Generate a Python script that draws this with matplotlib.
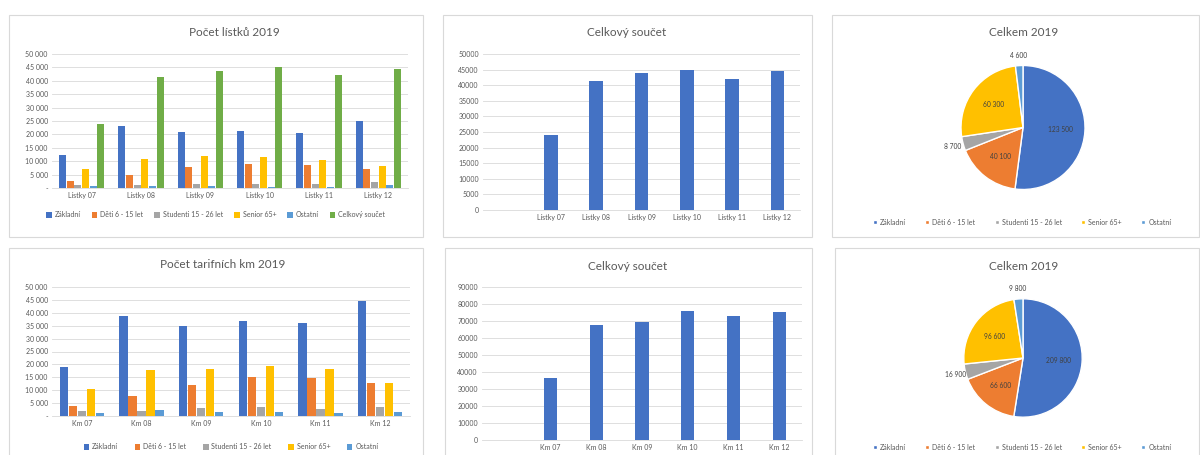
import numpy as np
import matplotlib
matplotlib.use('Agg')
import matplotlib.pyplot as plt
from matplotlib.patches import Rectangle
from matplotlib.ticker import FuncFormatter, MultipleLocator

plt.rcParams['font.family'] = ['Lato', 'DejaVu Sans']

# ---------------
# data
# ---------------
series = ['Základní', 'Děti 6 - 15 let', 'Studenti 15 - 26 let', 'Senior 65+', 'Ostatní']
colors = ['#4472C4', '#ED7D31', '#A5A5A5', '#FFC000', '#5B9BD5']
total_label = 'Celkový součet'
total_color = '#70AD47'

ticket_months = ['Lístky 07', 'Lístky 08', 'Lístky 09', 'Lístky 10', 'Lístky 11', 'Lístky 12']
tickets_zakladni = [12400, 23300, 20900, 21300, 20500, 25100]
tickets_deti = [2500, 4900, 7800, 9100, 8600, 7200]
tickets_studenti = [1000, 1000, 1600, 1500, 1400, 2200]
tickets_senior = [7200, 10800, 12100, 11400, 10600, 8200]
tickets_ostatni = [900, 900, 600, 500, 500, 1200]
tickets_total = [23900, 41400, 43800, 45000, 42000, 44500]

km_months = ['Km 07', 'Km 08', 'Km 09', 'Km 10', 'Km 11', 'Km 12']
km_zakladni = [19000, 38600, 34800, 37000, 36000, 44400]
km_deti = [3900, 7800, 12100, 15100, 14900, 12800]
km_studenti = [1900, 2100, 3000, 3600, 2800, 3500]
km_senior = [10300, 17700, 18200, 19400, 18100, 12900]
km_ostatni = [1200, 2200, 1700, 1700, 1300, 1700]
km_total = [36600, 67900, 69300, 76100, 72800, 75300]

W, H = 1200, 455
fig = plt.figure(figsize=(12, 4.55), dpi=100)
fig.patch.set_facecolor('white')

TXT = '#595959'
GRID = '#D9D9D9'


def box(l, t, r, b):
    return [l / W, 1 - b / H, (r - l) / W, (b - t) / H]


def panel(l, t, r, b):
    fig.add_artist(Rectangle((l / W, 1 - b / H), (r - l) / W, (b - t) / H,
                             transform=fig.transFigure, fill=False,
                             edgecolor=GRID, lw=0.8))


def title(x, y, s):
    fig.text(x / W, 1 - y / H, s, ha='center', va='center', fontsize=8.5, color=TXT)


def thousands(v, p):
    if v == 0:
        return '-'
    return f'{v:,.0f}'.replace(',', ' ')


def style_axes(ax, top, step):
    ax.set_ylim(0, top)
    ax.yaxis.set_major_locator(MultipleLocator(step))
    ax.grid(axis='y', color=GRID, lw=0.6)
    ax.set_axisbelow(True)
    for s in ['top', 'right', 'left']:
        ax.spines[s].set_visible(False)
    ax.spines['bottom'].set_color(GRID)
    ax.spines['bottom'].set_linewidth(0.6)
    ax.tick_params(length=0, labelsize=5, labelcolor=TXT, pad=3)


def grouped(ax, cats, data, cols, labels, width):
    x = np.arange(len(cats))
    n = len(data)
    for i, (vals, c, lab) in enumerate(zip(data, cols, labels)):
        ax.bar(x + (i - (n - 1) / 2) * width, vals, width * 0.92, color=c, label=lab)
    ax.set_xticks(x)
    ax.set_xticklabels(cats)
    ax.set_xlim(-0.5, len(cats) - 0.5)


def pie(ax, values, cols):
    wedges, _ = ax.pie(values, colors=cols, startangle=90, counterclock=False,
                       wedgeprops=dict(edgecolor='white', linewidth=1))
    total = sum(values)
    for w, v in zip(wedges, values):
        ang = np.deg2rad((w.theta1 + w.theta2) / 2)
        r = 0.6 if v / total > 0.06 else 1.17
        ax.text(r * np.cos(ang), r * np.sin(ang), f'{v:,.0f}'.replace(',', ' '),
                ha='center', va='center', fontsize=4.8, color='#404040')
    ax.set_xlim(-1.25, 1.25)
    ax.set_ylim(-1.25, 1.25)
    ax.set_aspect('equal')
    return wedges


legend_kw = dict(fontsize=5, frameon=False, handletextpad=0.4, labelcolor=TXT)

# panels
panel(9, 15, 423, 237)
panel(443, 15, 812, 237)
panel(832, 15, 1199, 237)
panel(9, 248, 423, 462)
panel(445, 248, 812, 462)
panel(835, 248, 1199, 462)

# ---- 1. tickets grouped
ax1 = fig.add_axes(box(52, 54, 408, 188))
grouped(ax1, ticket_months,
        [tickets_zakladni, tickets_deti, tickets_studenti, tickets_senior, tickets_ostatni, tickets_total],
        colors + [total_color], series + [total_label], 0.13)
style_axes(ax1, 50000, 5000)
ax1.yaxis.set_major_formatter(FuncFormatter(thousands))
title(234, 33, 'Počet lístků 2019')
ax1.legend(loc='center', bbox_to_anchor=(0.46, -0.2), ncol=6, handlelength=0.8,
           handleheight=0.8, columnspacing=1.6, **legend_kw)

# ---- 2. tickets total
ax2 = fig.add_axes(box(483, 54, 800, 210))
ax2.bar(np.arange(len(ticket_months)), tickets_total, 0.3, color=colors[0])
ax2.set_xticks(np.arange(len(ticket_months)))
ax2.set_xticklabels(ticket_months)
ax2.set_xlim(-1.5, len(ticket_months) - 0.5)
style_axes(ax2, 50000, 5000)
title(627, 33, 'Celkový součet')

# ---- 3. tickets pie
ax3 = fig.add_axes(box(945, 50, 1101, 205))
tickets_sums = [sum(tickets_zakladni), sum(tickets_deti), sum(tickets_studenti),
                sum(tickets_senior), sum(tickets_ostatni)]
w3 = pie(ax3, tickets_sums, colors)
title(1024, 33, 'Celkem 2019')
fig.legend(w3, series, loc='center', bbox_to_anchor=(1022 / W, 1 - 222 / H), ncol=5,
           handlelength=0.6, handleheight=0.6, columnspacing=2.8, **legend_kw)

# ---- 4. km grouped
ax4 = fig.add_axes(box(52, 287, 410, 416))
grouped(ax4, km_months,
        [km_zakladni, km_deti, km_studenti, km_senior, km_ostatni],
        colors, series, 0.152)
style_axes(ax4, 50000, 5000)
ax4.yaxis.set_major_formatter(FuncFormatter(thousands))
title(223, 265, 'Počet tarifních km 2019')
ax4.legend(loc='center', bbox_to_anchor=(0.5, -0.24), ncol=5, handlelength=0.8,
           handleheight=0.8, columnspacing=2.4, **legend_kw)

# ---- 5. km total
ax5 = fig.add_axes(box(482, 287, 802, 440))
ax5.bar(np.arange(len(km_months)), km_total, 0.29, color=colors[0])
ax5.set_xticks(np.arange(len(km_months)))
ax5.set_xticklabels(km_months)
ax5.set_xlim(-1.5, len(km_months) - 0.5)
style_axes(ax5, 90000, 10000)
title(628, 267, 'Celkový součet')

# ---- 6. km pie
ax6 = fig.add_axes(box(949, 284, 1097, 432))
km_sums = [sum(km_zakladni), sum(km_deti), sum(km_studenti), sum(km_senior), sum(km_ostatni)]
w6 = pie(ax6, km_sums, colors)
title(1024, 267, 'Celkem 2019')
fig.legend(w6, series, loc='center', bbox_to_anchor=(1022 / W, 1 - 447 / H), ncol=5,
           handlelength=0.6, handleheight=0.6, columnspacing=2.8, **legend_kw)

fig.savefig('out.png', dpi=100, facecolor='white')
